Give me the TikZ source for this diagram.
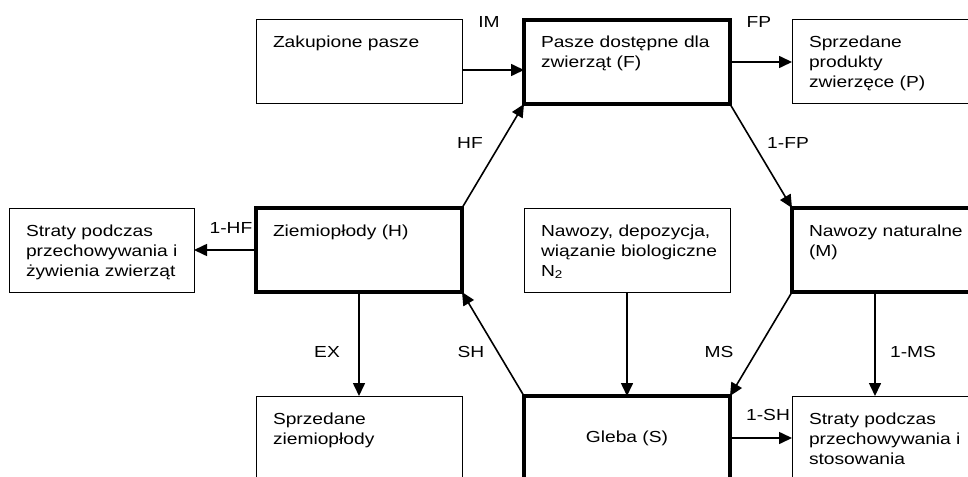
\documentclass[tikz,border=0pt]{standalone}
\usepackage{fontspec}
\setmainfont{Liberation Sans}[FakeStretch=1.2]
\usetikzlibrary{positioning,arrows.meta}

\begin{document}
\begin{tikzpicture}[
  x=1pt, y=-1pt,
  node distance=104pt and 62pt,
  font=\fontsize{16}{20}\selectfont,
  box/.style={
    draw, line width=1pt, outer sep=0pt, inner ysep=0pt, inner xsep=17pt,
    minimum width=206pt, minimum height=84pt,
    text width=172pt, align=left, text height=28pt, text depth=56pt
  },
  thickbox/.style={box, line width=4pt},
  soilbox/.style={
    draw, line width=4pt, outer sep=0pt,
    minimum width=206pt, minimum height=84pt, align=center
  },
  lbl/.style={inner sep=0pt},
  arr/.style={->, >={Triangle[length=13pt,width=12pt]}, line width=1.6pt}
]
  \useasboundingbox (0,0) rectangle (968,476);
  \clip (0,0) rectangle (968,476);

  % top row
  \node[box, anchor=north west] (zak) at (256,20) {Zakupione pasze};
  \node[thickbox, right=of zak] (pas) {Pasze dostępne dla\\zwierząt (F)};
  \node[box, right=of pas] (sprP) {Sprzedane\\produkty\\zwierzęce (P)};

  % middle row
  \node[thickbox, below=of zak] (ziem) {Ziemiopłody (H)};
  \node[box, left=of ziem, minimum width=185pt, text width=151pt] (strZ)
    {Straty podczas\\\mbox{przechowywania i}\\żywienia zwierząt};
  \node[box, below=of pas] (naw)
    {Nawozy, depozycja,\\\mbox{wiązanie biologiczne}\\N\textsubscript{2}};
  \node[thickbox, below=of sprP] (nat) {Nawozy naturalne\\(M)};

  % bottom row
  \node[box, below=of ziem] (sprZ) {Sprzedane\\ziemiopłody};
  \node[soilbox, below=of naw] (gleba) {Gleba (S)};
  \node[box, below=of nat] (strS) {Straty podczas\\\mbox{przechowywania i}\\stosowania};

  % flows
  \draw[arr] ([yshift=-8pt]zak.east) -- ([yshift=-8pt]pas.west);
  \draw[arr] (pas.east) -- (sprP.west);
  \draw[arr] (ziem.north east) -- (pas.south west);
  \draw[arr] (pas.south east) -- (nat.north west);
  \draw[arr] (ziem.west) -- (strZ.east);
  \draw[arr] (ziem.south) -- (sprZ.north);
  \draw[arr] (gleba.north west) -- (ziem.south east);
  \draw[arr] (naw.south) -- (gleba.north);
  \draw[arr] (nat.south west) -- (gleba.north east);
  \draw[arr] ([xshift=83pt]nat.south west) -- ([xshift=83pt]strS.north west);
  \draw[arr] (gleba.east) -- (strS.west);

  % flow labels
  \node[lbl] (im) at (489,22) {IM};
  \node[lbl] (fp) at (759,22) {FP};
  \node[lbl] (hf) at (470,143) {HF};
  \node[lbl] (onefp) at (788,143) {1-FP};
  \node[lbl] (onehf) at (231,228) {1-HF};
  \node[lbl] (ex) at (327,352) {EX};
  \node[lbl] (sh) at (471,352) {SH};
  \node[lbl] (ms) at (719,352) {MS};
  \node[lbl] (onems) at (913,352) {1-MS};
  \node[lbl] (onesh) at (768,415) {1-SH};
\end{tikzpicture}
\end{document}
